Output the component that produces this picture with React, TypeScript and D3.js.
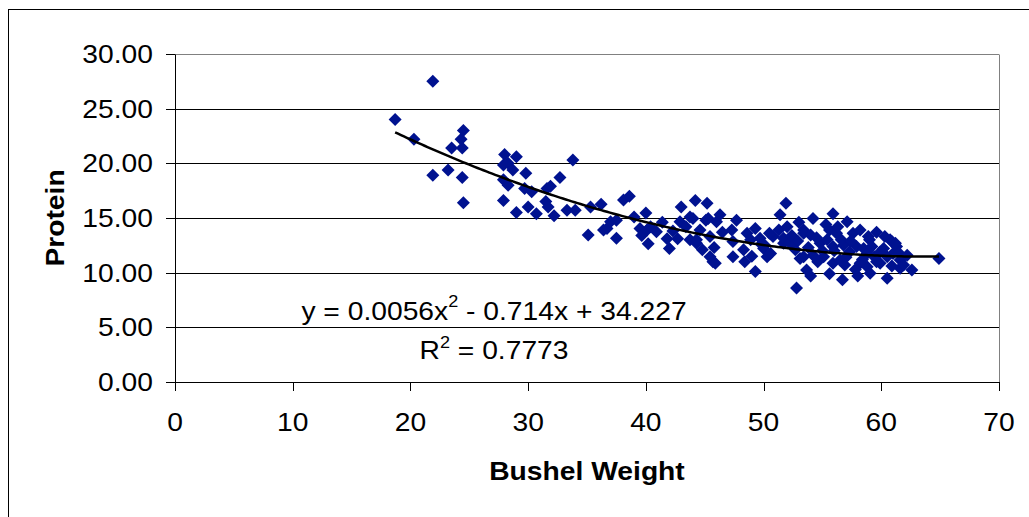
import React from 'react';
import * as d3 from 'd3';

// ---- data ----
const bushelWeight = [
  18.7, 20.3, 21.9, 21.9, 23.2, 23.5, 24.4, 24.3, 24.5, 24.4, 24.5,
  27.9, 28.0, 28.3, 28.7, 29.0, 27.9, 28.3, 29.8, 27.9, 29.0, 30.0, 30.7, 29.7, 30.3,
  31.6, 31.5, 31.7, 31.9, 32.7, 33.8, 32.2, 33.3, 34.0, 35.3, 35.1, 36.2, 36.4, 36.7,
  37.0, 37.5, 37.5, 38.1, 38.6, 39.0, 40.0, 39.5, 39.65, 40.2, 40.1, 40.4, 40.9, 41.8,
  42.0, 42.7, 42.9, 43.0, 43.75, 43.75, 44.2, 44.0, 44.3, 44.3, 44.6, 44.8, 45.1, 45.2,
  45.3, 45.45, 45.45, 45.7, 45.9, 46.0, 46.3, 47.3, 47.4, 47.4, 47.7, 48.3, 48.4, 48.6,
  49.3, 49.3, 49.7, 50.0, 50.1, 50.3, 50.6, 50.8, 51.3, 51.4, 51.7, 51.7, 51.9, 52.25,
  52.7, 52.8, 53.1, 53.4, 53.4, 53.4, 53.65, 54.0, 54.0, 54.2, 54.2, 54.8, 55.1, 55.4,
  55.6, 55.9, 55.9, 55.9, 56.2, 56.5, 56.7, 56.8, 57.1, 57.3, 57.6, 57.9, 58.0, 58.2,
  58.5, 58.8, 58.8, 58.9, 59.0, 59.05, 59.4, 59.6, 59.9, 59.9, 60.5, 60.5, 60.75, 60.9,
  61.0, 61.2, 61.3, 61.6, 61.6, 61.9, 62.2, 62.6, 64.9,
  52.0, 52.4, 52.9, 53.0, 53.8, 54.5, 54.6, 55.0, 55.3, 56.0, 56.3, 56.6, 57.0, 57.4,
  58.2, 58.4, 59.2, 59.6, 60.2, 60.3, 60.9, 61.5, 50.5, 49.8, 49.0, 48.9, 46.5, 45.8,
  43.4, 41.4, 42.3, 55.6, 57.8, 56.9,
];
const protein = [
  24.0, 22.2, 27.5, 18.9, 19.4, 21.4, 21.4, 22.2, 23.0, 18.7, 16.4,
  19.85, 20.8, 20.0, 19.4, 20.6, 18.5, 18.0, 19.1, 16.6, 15.5, 16.0, 15.4, 17.7, 17.4,
  17.7, 16.5, 16.0, 17.9, 18.7, 20.3, 15.2, 15.7, 15.7, 16.0, 13.45, 16.25, 13.9, 14.05,
  14.65, 14.8, 13.15, 16.65, 17.0, 15.1, 15.45, 14.05, 13.4, 12.65, 13.9, 14.2, 13.75, 13.1,
  12.2, 13.1, 14.65, 16.0, 15.1, 13.0, 16.6, 14.95, 12.7, 13.0, 13.9, 12.1, 14.8, 16.35,
  14.95, 13.3, 11.45, 11.0, 10.85, 14.65, 15.3, 13.9, 12.85, 11.45, 14.8, 12.1, 11.0, 13.6,
  14.05, 10.1, 13.15, 12.2, 12.5, 11.45, 11.75, 13.3, 13.9, 15.3, 12.7, 13.15, 16.35, 12.7,
  12.1, 8.6, 11.3, 13.9, 13.6, 11.45, 10.25, 13.45, 9.7, 14.95, 11.6, 12.7, 11.45, 13.0,
  13.9, 15.4, 12.4, 10.85, 13.6, 11.15, 9.35, 12.5, 14.65, 11.9, 13.6, 12.4, 9.7, 10.85,
  12.2, 11.75, 10.55, 13.3, 13.0, 9.95, 11.45, 13.7, 11.9, 10.85, 11.45, 9.5, 13.0, 12.85,
  11.75, 12.7, 12.4, 11.15, 10.4, 10.7, 11.6, 10.25, 11.3,
  14.2, 13.4, 12.9, 14.6, 12.3, 13.2, 11.0, 12.0, 14.4, 12.0, 14.2, 13.0, 11.4, 12.9,
  13.9, 11.2, 12.4, 11.0, 12.2, 13.3, 10.6, 11.8, 13.6, 12.6, 11.5, 13.0, 13.7, 12.3,
  14.2, 14.6, 13.8, 9.9, 10.3, 10.7,
];
const xTicks = [0, 10, 20, 30, 40, 50, 60, 70];
const yTicks = [0, 5, 10, 15, 20, 25, 30];
// polynomial trendline coefficients (from the chart label)
const trendA = 0.0056;
const trendB = -0.714;
const trendC = 34.227;
const equationLabel = ['y = 0.0056x', '2', ' - 0.714x + 34.227'];
const rSquaredLabel = ['R', '2', ' = 0.7773'];
const xTitle = 'Bushel Weight';
const yTitle = 'Protein';

const FONT = '"Liberation Sans", Arial, sans-serif';
const SX = 1.13;
const FS = 25;
const MARK = '#001290';

export default function App() {
  const W = 1029, H = 517;
  const L = 175, R = 999, T = 54, B = 382;
  const x = d3.scaleLinear().domain([0, 70]).range([L, R]);
  const y = d3.scaleLinear().domain([0, 30]).range([B, T]);
  const crisp = (v: number) => Math.round(v) + 0.5;

  const pts = bushelWeight.map((bw, i) => ({ bw, p: protein[i] }));
  const [xmin, xmax] = d3.extent(bushelWeight) as [number, number];
  const trendXs = d3.range(xmin, xmax, 0.25).concat([xmax]);
  const line = d3.line<number>()
    .x((v) => x(v))
    .y((v) => y(trendA * v * v + trendB * v + trendC))
    .curve(d3.curveLinear);

  const r = 6.5;
  const diamond = (cx: number, cy: number) =>
    `M${cx},${cy - r}L${cx + r},${cy}L${cx},${cy + r}L${cx - r},${cy}Z`;

  const fmt = d3.format('.2f');

  return (
    <svg width={W} height={H} style={{ position: 'absolute', left: 0, top: 0 }}>
      <rect x={0} y={0} width={W} height={H} fill="#fff" />
      {/* chart frame */}
      <rect x={8.5} y={9.5} width={W + 10} height={H + 10} fill="none" stroke="#000" strokeWidth={1} />
      {/* gridlines */}
      {yTicks.map((t) => (
        <line key={'g' + t} x1={L} x2={R} y1={crisp(y(t))} y2={crisp(y(t))} stroke="#000" strokeWidth={1} />
      ))}
      {/* plot area border (right/top) */}
      <line x1={crisp(R)} x2={crisp(R)} y1={crisp(T)} y2={crisp(B)} stroke="#808080" strokeWidth={1} />
      <line x1={L} x2={R} y1={crisp(T)} y2={crisp(T)} stroke="#808080" strokeWidth={1} />
      {/* axes */}
      <line x1={crisp(L)} x2={crisp(L)} y1={crisp(T)} y2={crisp(B)} stroke="#000" />
      <line x1={L} x2={R + 1} y1={crisp(B)} y2={crisp(B)} stroke="#000" />
      {yTicks.map((t) => (
        <g key={'yt' + t}>
          <line x1={L - 9} x2={L} y1={crisp(y(t))} y2={crisp(y(t))} stroke="#000" />
          <g transform={`translate(153,${y(t) + 9}) scale(${SX},1)`}>
            <text textAnchor="end" fontFamily={FONT} fontSize={FS} fill="#000">{fmt(t)}</text>
          </g>
        </g>
      ))}
      {xTicks.map((t) => (
        <g key={'xt' + t}>
          <line x1={crisp(x(t))} x2={crisp(x(t))} y1={B} y2={B + 9} stroke="#000" />
          <g transform={`translate(${x(t)},431) scale(${SX},1)`}>
            <text textAnchor="middle" fontFamily={FONT} fontSize={FS} fill="#000">{t}</text>
          </g>
        </g>
      ))}
      {/* points */}
      {pts.map((d, i) => (
        <path key={'p' + i} d={diamond(x(d.bw), y(d.p))} fill={MARK} />
      ))}
      {/* trendline */}
      <path d={line(trendXs) || ''} fill="none" stroke="#000" strokeWidth={2.5} />
      {/* equation */}
      <g transform={`translate(494,319.5) scale(${SX},1)`}>
        <text textAnchor="middle" fontFamily={FONT} fontSize={FS} fill="#000">
          {equationLabel[0]}
          <tspan dy={-13} fontSize={16}>{equationLabel[1]}</tspan>
          <tspan dy={13}>{equationLabel[2]}</tspan>
        </text>
      </g>
      <g transform={`translate(494,359) scale(${SX},1)`}>
        <text textAnchor="middle" fontFamily={FONT} fontSize={FS} fill="#000">
          {rSquaredLabel[0]}
          <tspan dy={-11} fontSize={16}>{rSquaredLabel[1]}</tspan>
          <tspan dy={11}>{rSquaredLabel[2]}</tspan>
        </text>
      </g>
      {/* axis titles */}
      <g transform={`translate(${(L + R) / 2},480) scale(${SX},1)`}>
        <text textAnchor="middle" fontFamily={FONT} fontSize={FS} fontWeight="bold" fill="#000">{xTitle}</text>
      </g>
      <g transform={`translate(64,${(T + B) / 2}) rotate(-90) scale(${SX},1)`}>
        <text textAnchor="middle" fontFamily={FONT} fontSize={FS} fontWeight="bold" fill="#000">{yTitle}</text>
      </g>
    </svg>
  );
}
